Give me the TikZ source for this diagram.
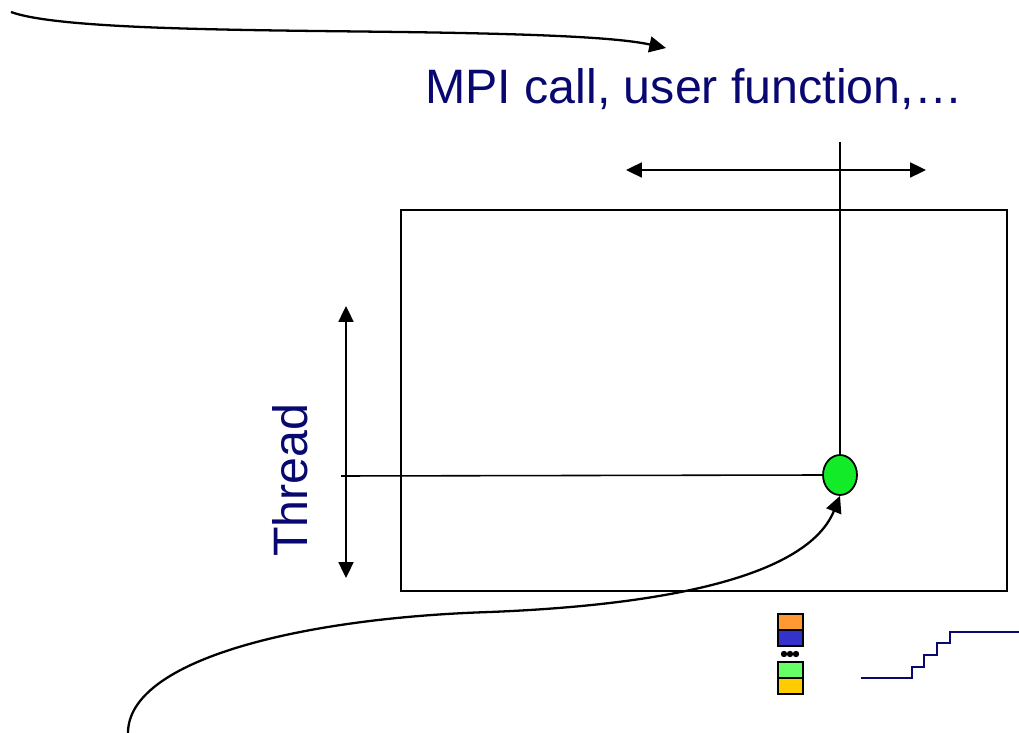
\documentclass[tikz,border=0pt]{standalone}
\usepackage{fontspec}
\setmainfont{Liberation Sans}
\usetikzlibrary{arrows.meta,shapes.geometric}
\definecolor{navytext}{RGB}{8,8,112}
\definecolor{evgreen}{RGB}{17,235,40}
\definecolor{boxorange}{RGB}{255,153,51}
\definecolor{boxblue}{RGB}{51,51,204}
\definecolor{boxgreen}{RGB}{102,255,102}
\definecolor{boxyellow}{RGB}{255,204,0}
\tikzset{
  headed/.style={-{Triangle[length=9.5pt,width=9pt]}},
  twoheaded/.style={{Triangle[length=9pt,width=8.5pt]}-{Triangle[length=9pt,width=8.5pt]}},
  axisline/.style={line width=1.1pt},
  guide/.style={line width=0.9pt},
  pointer/.style={line width=1.3pt, headed},
  bigtext/.style={text=navytext, font=\fontsize{27.5}{32}\selectfont, inner sep=0pt},
  evnode/.style={ellipse, draw, line width=1pt, fill=evgreen, minimum width=0.68cm, minimum height=0.8cm, inner sep=0pt},
  legendbox/.style={draw, line width=1pt},
}
\begin{document}
\begin{tikzpicture}[x=0.02cm,y=-0.02cm]
  \useasboundingbox (0,0) rectangle (1019,733);

  % region of the trace: threads against calls
  \draw[axisline] (401,210) rectangle (1007,591);

  % labels
  \node[bigtext, anchor=base west] (calls) at (425,104) {MPI call, user function,…};
  \node[bigtext, anchor=base, rotate=90] (thread) at (307,480) {Thread};

  % one event
  \node[evnode] (ev) at (840,475) {};

  % axes
  \coordinate (hl) at (626,170);
  \coordinate (hr) at (926,170);
  \draw[axisline, twoheaded] (hl) -- (hr);
  \coordinate (vt) at (346,306);
  \coordinate (vb) at (346,578);
  \draw[axisline, twoheaded] (vt) -- (vb);

  % guide lines to the event
  \coordinate (colTop) at (840,142);
  \coordinate (rowLeft) at (341,476);
  \draw[guide] (colTop) -- (ev.north);
  \draw[guide] (rowLeft) -- (ev.west);

  % curved pointers
  \coordinate (topStart) at (11,12);
  \coordinate (topMid) at (400,32);
  \coordinate (topEnd) at (666,48);
  \draw[pointer] (topStart) .. controls (60,30) and (250,30) .. (topMid)
              .. controls (550,34) and (620,38) .. (topEnd);

  \coordinate (botStart) at (128,733);
  \coordinate (botMid) at (490,612);
  \draw[pointer] (botStart) .. controls (128,660) and (300,618) .. (botMid)
              .. controls (690,604) and (810,570) .. (ev.south);

  % metric stack
  \draw[legendbox, fill=boxorange] (778,614) rectangle (803,630);
  \draw[legendbox, fill=boxblue] (778,630) rectangle (803,646);
  \foreach \xx in {784,790,796} \fill (\xx,654) circle (3.2);
  \draw[legendbox, fill=boxgreen] (778,662) rectangle (803,678);
  \draw[legendbox, fill=boxyellow] (778,678) rectangle (803,694);

  % cumulative staircase
  \draw[navytext, line width=1.1pt] (861,678) -- (912,678) -- (912,667) -- (924,667)
     -- (924,655) -- (937,655) -- (937,643) -- (950,643) -- (950,632) -- (1019,632);
\end{tikzpicture}
\end{document}
